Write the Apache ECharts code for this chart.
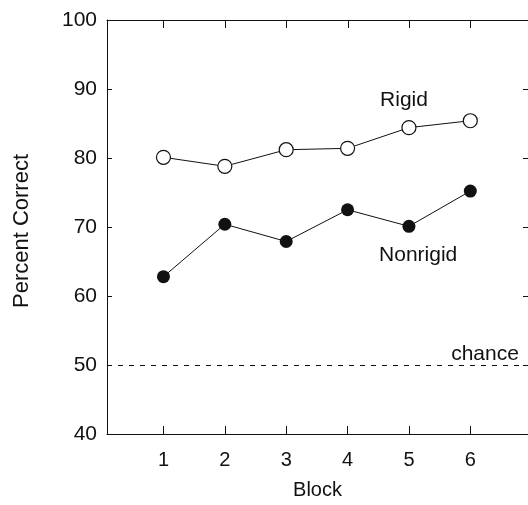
<!DOCTYPE html>
<html>
<head>
<meta charset="utf-8">
<script src="https://cdn.jsdelivr.net/npm/echarts@6/dist/echarts.min.js"></script>
<style>
  html, body { margin: 0; padding: 0; background: #fff; }
  #chart { width: 528px; height: 505px; }
</style>
</head>
<body>
<div id="chart"></div>
<script>
// data
const blocks = [1, 2, 3, 4, 5, 6];
const rigid = [80.1, 78.8, 81.2, 81.4, 84.4, 85.4];
const nonrigid = [62.8, 70.4, 67.9, 72.5, 70.1, 75.2];
const chanceLevel = 50;
const yTicks = [40, 50, 60, 70, 80, 90, 100];

// curve labels, placed in data space (block, percent)
const notes = [
  { text: "Rigid", at: [4.92, 88.4] },
  { text: "Nonrigid", at: [5.15, 65.9] },
  { text: "chance", at: [6.24, 51.6] },
];

const ink = "#111";
const font = "Liberation Sans";

const chart = echarts.init(document.getElementById("chart"));

const pair = (vals) => blocks.map((b, i) => [b, vals[i]]);

const xAxisFor = (pos) => ({
  type: "value",
  position: pos,
  min: 0.08,
  max: 6.94,
  axisLine: { show: true, lineStyle: { color: ink, width: 1 } },
  axisTick: { show: true, inside: true, length: 8, customValues: blocks.slice(), lineStyle: { color: ink } },
  splitLine: { show: false },
});

const yAxisFor = (pos) => ({
  type: "value",
  position: pos,
  min: yTicks[0],
  max: yTicks[yTicks.length - 1],
  interval: 10,
  axisLine: { show: true, lineStyle: { color: ink, width: 1 } },
  axisTick: { show: true, inside: true, length: 5, lineStyle: { color: ink } },
  splitLine: { show: false },
});

const xBottom = Object.assign(xAxisFor("bottom"), {
  name: "Block",
  nameLocation: "middle",
  nameGap: 46,
  nameTextStyle: { color: ink, fontSize: 20, fontFamily: font },
  axisLabel: { show: true, customValues: blocks.slice(), margin: 16, color: ink, fontSize: 20, fontFamily: font },
});

// top frame line only; its ticks are drawn below from the same scale
const xTop = Object.assign(xAxisFor("top"), {
  axisTick: { show: false },
  axisLabel: { show: false },
});

const yLeft = Object.assign(yAxisFor("left"), {
  name: "Percent Correct",
  nameLocation: "middle",
  nameGap: 74,
  nameTextStyle: { color: ink, fontSize: 22, fontFamily: font, padding: [0, 0, 0, -8] },
  axisLabel: { color: ink, fontSize: 21, fontFamily: font, margin: 10 },
});

const yRight = Object.assign(yAxisFor("right"), { axisLabel: { show: false } });

const option = {
  backgroundColor: "#fff",
  animation: false,
  grid: { left: 107, top: 20, width: 424, height: 421 },
  xAxis: [xBottom, xTop],
  yAxis: [yLeft, yRight],
  series: [
    {
      name: "Rigid",
      type: "line",
      data: pair(rigid),
      symbol: "circle",
      symbolSize: 14,
      lineStyle: { color: ink, width: 1 },
      itemStyle: { color: "#fff", borderColor: ink, borderWidth: 1.2 },
      z: 3,
    },
    {
      name: "Nonrigid",
      type: "line",
      data: pair(nonrigid),
      symbol: "circle",
      symbolSize: 13,
      lineStyle: { color: ink, width: 1 },
      itemStyle: { color: ink, borderColor: ink, borderWidth: 0 },
      markLine: {
        silent: true,
        symbol: "none",
        label: { show: false },
        lineStyle: { color: ink, width: 1, type: [5, 6] },
        data: [{ yAxis: chanceLevel }],
      },
      z: 3,
    },
  ],
};

chart.setOption(option);

const toPx = (pt) => chart.convertToPixel({ xAxisIndex: 0, yAxisIndex: 0 }, pt);
const yTop = yTicks[yTicks.length - 1];

// inward ticks on the top frame, at the block positions
const topTicks = blocks.map((b) => {
  const p = toPx([b, yTop]);
  const x = Math.round(p[0]) + 0.5;
  return {
    type: "line",
    shape: { x1: x, y1: p[1], x2: x, y2: p[1] + 8 },
    style: { stroke: ink, lineWidth: 1 },
    silent: true,
    z: 5,
  };
});

// curve labels through the chart's own scales
const labels = notes.map((n) => {
  const p = toPx(n.at);
  return {
    type: "text",
    x: p[0],
    y: p[1],
    style: {
      text: n.text,
      fill: ink,
      font: "21px " + font,
      align: "center",
      verticalAlign: "middle",
    },
    z: 10,
  };
});

chart.setOption({ graphic: topTicks.concat(labels) });
</script>
</body>
</html>
